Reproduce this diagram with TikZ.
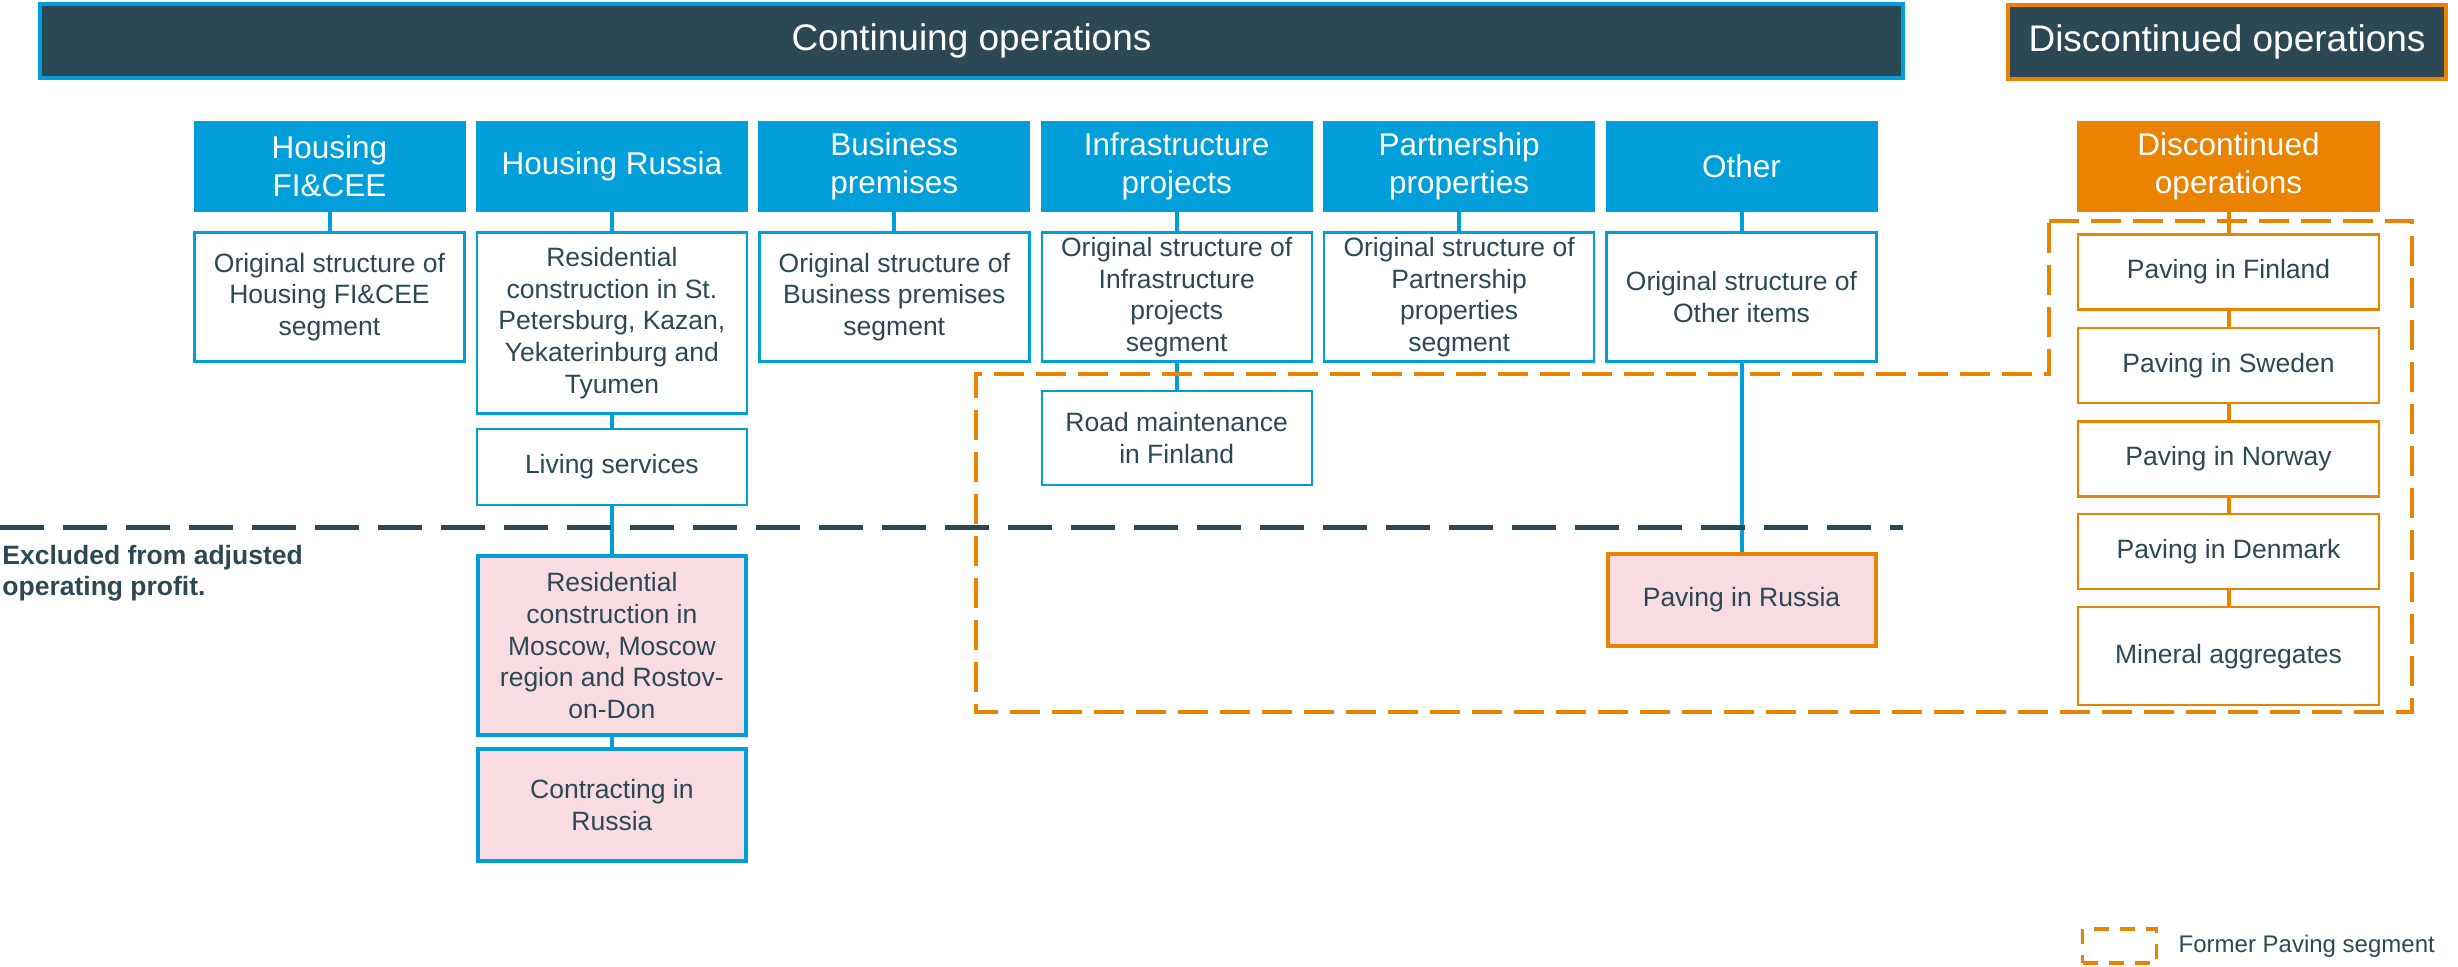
\documentclass[tikz,border=0pt]{standalone}
\usepackage{fontspec}
\setmainfont{Liberation Sans}
\usetikzlibrary{positioning}
\definecolor{segblue}{RGB}{0,159,218}
\definecolor{slate}{RGB}{44,72,84}
\definecolor{paving}{RGB}{233,131,0}
\definecolor{excl}{RGB}{248,220,225}
\tikzstyle{banner} = [rectangle, draw, line width=2pt, fill=slate, text=white, minimum height=37pt, font=\fontsize{18.5}{22}\selectfont]
\tikzstyle{head} = [rectangle, fill=segblue, text=white, align=center, minimum width=136pt, minimum height=45.5pt, inner sep=0pt, font=\fontsize{15.75}{19}\selectfont]
\tikzstyle{sub} = [rectangle, draw=segblue, line width=1.2pt, fill=white, text=slate, align=center, minimum width=135pt, inner sep=0pt, font=\fontsize{13.25}{15.9}\selectfont]
\tikzstyle{removed} = [sub, fill=excl, line width=2pt, minimum width=134pt]
\tikzstyle{discsub} = [sub, draw=paving, minimum width=150.5pt]
\tikzstyle{link} = [draw=segblue, line width=2pt]
\tikzstyle{disclink} = [draw=paving, line width=2pt]
\tikzstyle{former} = [draw=paving, line width=1.8pt, dash pattern=on 15pt off 6pt]
\tikzstyle{cutline} = [draw=slate, line width=2.5pt, dash pattern=on 22pt off 9.5pt]

\begin{document}
\begin{tikzpicture}[x=0.5pt, y=0.5pt, node distance=141.2pt]
    \useasboundingbox (0,0) rectangle (2458,-966);
    \node[banner, draw=segblue, minimum width=931.5pt] (cont) at (971.5,-41) {Continuing operations};
    \node[banner, draw=paving, minimum width=219pt] (disc) at (2227,-42) {Discontinued operations};

    \node[head] (fice) at (329.5,-166.5) {Housing\\FI\&CEE};
    \node[head, right of=fice] (hrus) {Housing Russia};
    \node[head, right of=hrus] (bprem) {Business\\premises};
    \node[head, right of=bprem] (infra) {Infrastructure\\projects};
    \node[head, right of=infra] (partner) {Partnership\\properties};
    \node[head, right of=partner] (other) {Other};
    \node[head, fill=paving, minimum width=151.5pt] (dischead) at (2228.5,-166.5) {Discontinued\\operations};

    \node[sub, minimum height=64.5pt, below=9.5pt of fice] (ficeorig) {Original structure of\\Housing FI\&CEE\\segment};
    \node[sub, minimum height=90.5pt, below=9.5pt of hrus] (spb) {Residential\\construction in St.\\Petersburg, Kazan,\\Yekaterinburg and\\Tyumen};
    \node[sub, minimum height=38pt, below=6.5pt of spb] (living) {Living services};
    \node[removed, minimum height=89.5pt, below=24pt of living] (moscow) {Residential\\construction in\\Moscow, Moscow\\region and Rostov-\\on-Don};
    \node[removed, minimum height=56pt, below=5pt of moscow] (contract) {Contracting in\\Russia};
    \node[sub, minimum height=64.5pt, below=9.5pt of bprem] (bpremorig) {Original structure of\\Business premises\\segment};
    \node[sub, minimum height=64.5pt, below=9.5pt of infra] (infraorig) {Original structure of\\Infrastructure\\projects\\segment};
    \node[sub, minimum height=47pt, below=13.5pt of infraorig] (road) {Road maintenance\\in Finland};
    \node[sub, minimum height=64.5pt, below=9.5pt of partner] (partnerorig) {Original structure of\\Partnership\\properties\\segment};
    \node[sub, minimum height=64.5pt, below=9.5pt of other] (otherorig) {Original structure of\\Other items};
    \node[removed, draw=paving, minimum height=46pt, below=94.5pt of otherorig] (pavrus) {Paving in Russia};

    \node[discsub, minimum height=37.5pt, below=10.5pt of dischead] (pfin) {Paving in Finland};
    \node[discsub, minimum height=37.5pt, below=8pt of pfin] (pswe) {Paving in Sweden};
    \node[discsub, minimum height=37.5pt, below=8pt of pswe] (pnor) {Paving in Norway};
    \node[discsub, minimum height=37.5pt, below=7.5pt of pnor] (pden) {Paving in Denmark};
    \node[discsub, minimum height=49pt, below=8pt of pden] (mineral) {Mineral aggregates};

    \draw[link] (fice) -- (ficeorig);
    \draw[link] (hrus) -- (spb);
    \draw[link] (spb) -- (living);
    \draw[link] (living) -- (moscow);
    \draw[link] (moscow) -- (contract);
    \draw[link] (bprem) -- (bpremorig);
    \draw[link] (infra) -- (infraorig);
    \draw[link] (infraorig) -- (road);
    \draw[link] (partner) -- (partnerorig);
    \draw[link] (other) -- (otherorig);
    \draw[link] (otherorig) -- (pavrus);
    \draw[disclink] (dischead) -- (pfin);
    \draw[disclink] (pfin) -- (pswe);
    \draw[disclink] (pswe) -- (pnor);
    \draw[disclink] (pnor) -- (pden);
    \draw[disclink] (pden) -- (mineral);

    % former paving segment outline
    \draw[former] (2049,-221) -- (2412,-221) -- (2412,-712) -- (976,-712) -- (976,-374) -- (2049,-374) -- cycle;
    % adjusted operating profit cut
    \draw[cutline] (0,-527) -- (1903,-527);
    \node[anchor=north west, inner sep=0pt, align=left, text=slate, font=\bfseries\fontsize{13.25}{15.5}\selectfont] (excluded) at (2,-545) {Excluded from adjusted\\operating profit.};

    \node[draw=paving, line width=1.8pt, dash pattern=on 7.5pt off 5.5pt, minimum width=37pt, minimum height=17pt, inner sep=0pt] (legbox) at (2119.5,-946) {};
    \node[right=10pt of legbox, inner sep=0pt, text=slate, font=\fontsize{12}{14}\selectfont] (legtext) {Former Paving segment};
\end{tikzpicture}
\end{document}
